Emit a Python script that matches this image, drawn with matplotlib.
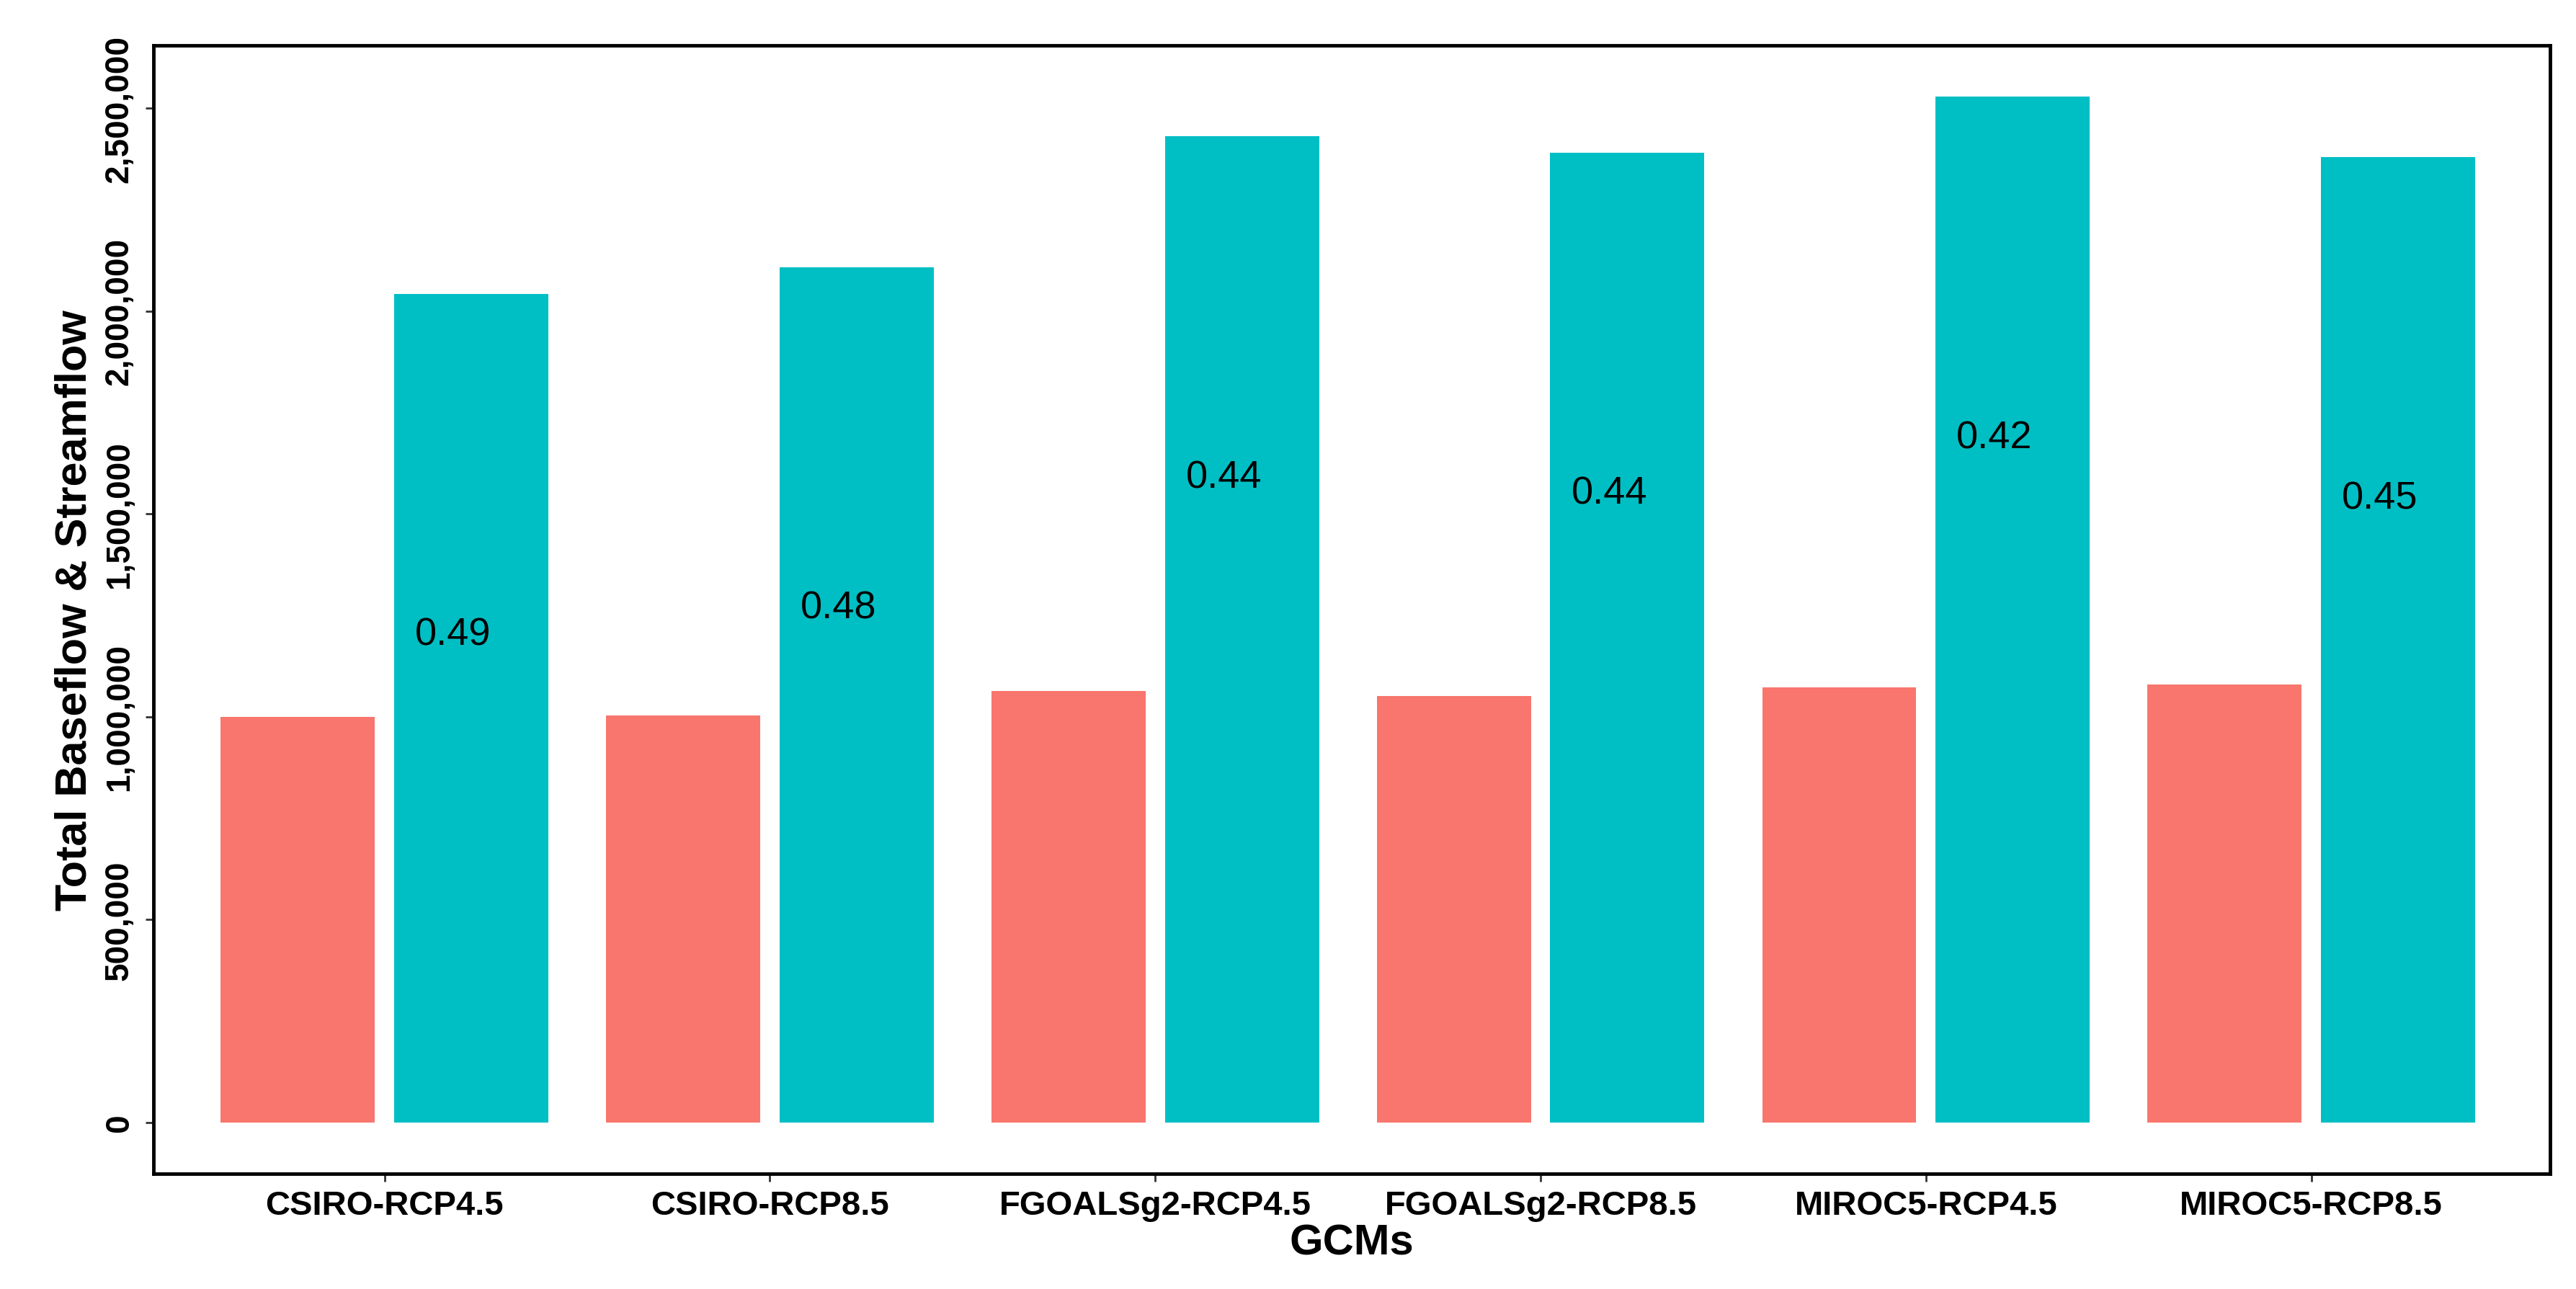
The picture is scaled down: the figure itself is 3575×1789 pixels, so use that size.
import matplotlib
matplotlib.use("Agg")
import matplotlib.pyplot as plt
import numpy as np
from matplotlib.ticker import FuncFormatter

plt.rcParams['font.family'] = ['Liberation Sans', 'DejaVu Sans']

gcms = ['CSIRO-RCP4.5', 'CSIRO-RCP8.5', 'FGOALSg2-RCP4.5',
        'FGOALSg2-RCP8.5', 'MIROC5-RCP4.5', 'MIROC5-RCP8.5']
baseflow = [1000000, 1004000, 1064000, 1052000, 1072000, 1080000]
streamflow = [2043000, 2108000, 2431000, 2391000, 2528000, 2379000]
ratio_labels = ['0.49', '0.48', '0.44', '0.44', '0.42', '0.45']

red = '#F8766D'
cyan = '#00BFC4'

fig = plt.figure(figsize=(35.75, 17.9), dpi=100)
ax = fig.add_axes([0.0595, 0.0894, 0.9305, 0.8746])

x = np.arange(len(gcms))
w = 0.40
ax.bar(x - 0.225, baseflow, width=w, color=red, zorder=2)
ax.bar(x + 0.225, streamflow, width=w, color=cyan, zorder=2)

# ratio labels inside the streamflow bars
for xi, s, lab in zip(x, streamflow, ratio_labels):
    ax.text(xi + 0.178, s - 840000, lab, ha='center', va='center',
            fontsize=39, color='black', zorder=3)

ax.set_xlim(-0.6, 5.62)
ax.set_ylim(-126000, 2654000)
ax.set_yticks([0, 500000, 1000000, 1500000, 2000000, 2500000])
ax.yaxis.set_major_formatter(FuncFormatter(lambda v, p: f'{int(v):,}'))
ax.set_xticks(x)
ax.set_xticklabels(gcms, fontsize=34, fontweight='bold')

for lab in ax.get_yticklabels():
    lab.set_rotation(90)
    lab.set_va('center')
    lab.set_fontsize(33)
    lab.set_fontweight('bold')

ax.tick_params(axis='both', length=8, width=2, color='#333333')
ax.tick_params(axis='y', pad=10)
ax.tick_params(axis='x', pad=8)

for sp in ax.spines.values():
    sp.set_linewidth(3.5)
    sp.set_color('black')

ax.set_xlabel('GCMs', fontsize=43, fontweight='bold', labelpad=2)
ax.set_ylabel('Total Baseflow & Streamflow', fontsize=44, fontweight='bold', labelpad=8)

fig.savefig('out.png', dpi=100, facecolor='white')
